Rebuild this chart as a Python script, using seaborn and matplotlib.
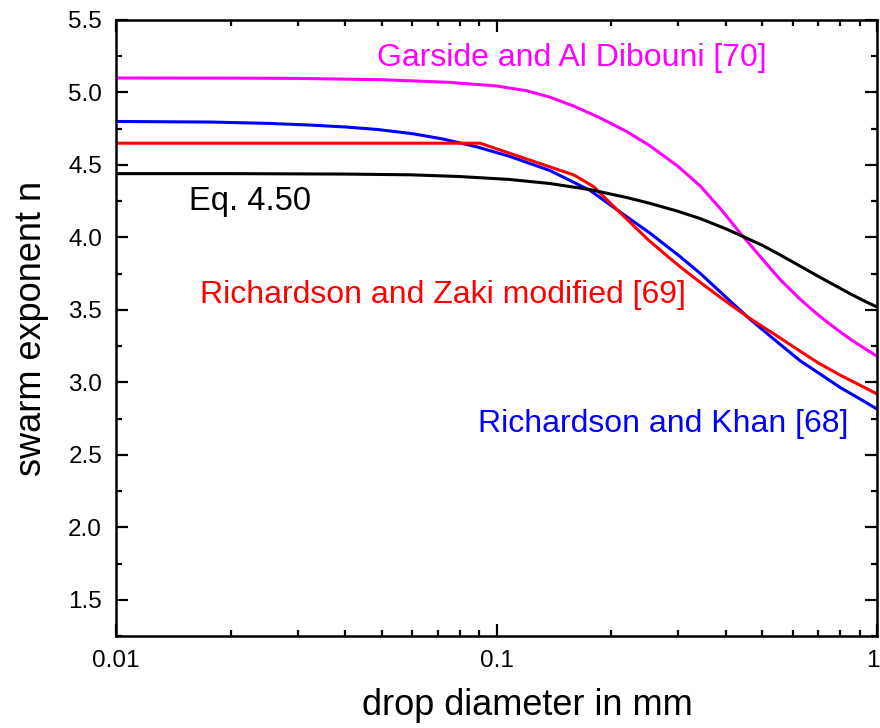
import numpy as np
import pandas as pd
import matplotlib
matplotlib.use("Agg")
import matplotlib.pyplot as plt
import seaborn as sns
from matplotlib.ticker import FixedLocator, LogLocator, MultipleLocator, NullFormatter
from matplotlib.transforms import ScaledTranslation

# ---- data ----
x_garside = [0.01, 0.02, 0.03, 0.05, 0.075, 0.10, 0.12, 0.138, 0.16, 0.187, 0.22, 0.253,
             0.30, 0.343, 0.39, 0.437, 0.50, 0.556, 0.63, 0.708, 0.78, 0.849, 0.92, 1.0]
y_garside = [5.100, 5.099, 5.097, 5.088, 5.070, 5.045, 5.012, 4.968, 4.905, 4.825, 4.73, 4.632,
             4.49, 4.355, 4.19, 4.03, 3.85, 3.71, 3.57, 3.455, 3.37, 3.30, 3.24, 3.18]

x_khan = [0.01, 0.0177, 0.025, 0.0324, 0.04, 0.0485, 0.06, 0.0723, 0.0887, 0.108, 0.138,
          0.176, 0.21, 0.253, 0.303, 0.343, 0.40, 0.464, 0.55, 0.628, 0.70, 0.80, 0.90, 1.0]
y_khan = [4.80, 4.796, 4.787, 4.775, 4.762, 4.745, 4.716, 4.679, 4.625, 4.56, 4.462,
          4.325, 4.18, 4.03, 3.87, 3.752, 3.59, 3.435, 3.273, 3.149, 3.067, 2.965, 2.887, 2.816]

x_zaki = [0.01, 0.0905, 0.16, 0.18, 0.203, 0.25, 0.28, 0.303, 0.343, 0.40, 0.464,
          0.55, 0.628, 0.70, 0.80, 0.90, 1.0]
y_zaki = [4.65, 4.65, 4.43, 4.35, 4.215, 3.985, 3.875, 3.80, 3.69, 3.56, 3.44,
          3.315, 3.215, 3.135, 3.05, 2.982, 2.92]

x_eq = [0.01, 0.02, 0.04, 0.0593, 0.08, 0.108, 0.138, 0.176, 0.22, 0.253, 0.30, 0.343,
        0.40, 0.437, 0.50, 0.556, 0.63, 0.708, 0.78, 0.849, 0.92, 1.0]
y_eq = [4.44, 4.44, 4.437, 4.432, 4.42, 4.40, 4.372, 4.33, 4.275, 4.235, 4.18, 4.13,
        4.06, 4.015, 3.945, 3.88, 3.80, 3.725, 3.665, 3.612, 3.565, 3.52]

labels = ["Garside and Al Dibouni [70]", "Richardson and Khan [68]",
          "Richardson and Zaki modified [69]", "Eq. 4.50"]
colors = ["#FF00FF", "#0000FF", "#FF0000", "#000000"]
x_ticks = [0.01, 0.1, 1]
x_ticklabels = ["0.01", "0.1", "1"]
y_ticks = [1.5, 2.0, 2.5, 3.0, 3.5, 4.0, 4.5, 5.0, 5.5]

# ---- styling ----
sns.set_style("ticks")
plt.rcParams['font.family'] = ['Liberation Sans', 'DejaVu Sans']
plt.rcParams['text.color'] = 'black'
plt.rcParams['axes.labelcolor'] = 'black'

fig = plt.figure(figsize=(8.8, 7.28), dpi=100)
ax = fig.add_axes([116/880, 1-636/728, (877-116)/880, (636-20)/728])

series = [(x_garside, y_garside), (x_khan, y_khan), (x_zaki, y_zaki), (x_eq, y_eq)]
for (xs, ys), lab, col in zip(series, labels, colors):
    df = pd.DataFrame({"d": xs, "n": ys})
    sns.lineplot(data=df, x="d", y="n", ax=ax, color=col, linewidth=2.2,
                 estimator=None, sort=False)

ax.set_xscale("log")
ax.set_xlim(0.01, 1)
ax.set_ylim(1.25, 5.5)

ax.xaxis.set_major_locator(FixedLocator(x_ticks))
ax.set_xticklabels(x_ticklabels)
ax.xaxis.set_minor_locator(LogLocator(base=10, subs=np.arange(2, 10)))
ax.xaxis.set_minor_formatter(NullFormatter())
ax.yaxis.set_major_locator(FixedLocator(y_ticks))
ax.set_yticklabels([f"{v:.1f}" for v in y_ticks])
ax.yaxis.set_minor_locator(MultipleLocator(0.25))

ax.tick_params(which="both", direction="in", top=True, right=True, width=1.6,
               labelsize=17.5, colors="black")
ax.tick_params(which="major", length=8.5, pad=10)
ax.tick_params(which="minor", length=4.3)
for s in ax.spines.values():
    s.set_linewidth(1.8)
    s.set_color("black")

# keep the "1" tick label inside the figure
last = ax.get_xticklabels()[-1]
last.set_transform(last.get_transform() + ScaledTranslation(-4/100, 0, fig.dpi_scale_trans))

ax.set_xlabel("drop diameter in mm", fontsize=26, color="black")
ax.xaxis.set_label_coords((527-116)/761, -0.085)
ax.set_ylabel("swarm exponent n", fontsize=26, labelpad=14, color="black")

ax.text(0.0485, 5.24, labels[0], color=colors[0], fontsize=23, ha="left", va="center")
ax.text(0.0893, 2.713, labels[1], color=colors[1], fontsize=23, ha="left", va="center")
ax.text(0.01663, 3.60, labels[2], color=colors[2], fontsize=23, ha="left", va="center")
ax.text(0.0156, 4.247, labels[3], color=colors[3], fontsize=23.5, ha="left", va="center")

fig.savefig("out.png", dpi=100)
